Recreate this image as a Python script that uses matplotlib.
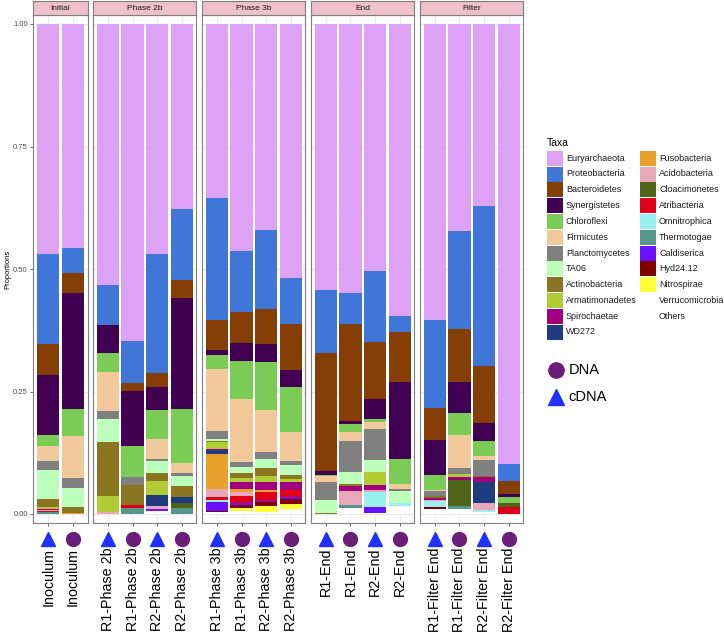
import numpy as np
import matplotlib
matplotlib.use('Agg')
import matplotlib.pyplot as plt
from matplotlib.patches import Rectangle
from matplotlib.transforms import blended_transform_factory

plt.rcParams['font.family'] = ['Liberation Sans', 'DejaVu Sans']

W, H = 724, 634

# 分面与样本
facets = ['Initial', 'Phase 2b', 'Phase 3b', 'End', 'Filter']
facet_of = [0, 0, 1, 1, 1, 1, 2, 2, 2, 2, 3, 3, 3, 3, 4, 4, 4, 4]
samples = ['Inoculum', 'Inoculum',
           'R1-Phase 2b', 'R1-Phase 2b', 'R2-Phase 2b', 'R2-Phase 2b',
           'R1-Phase 3b', 'R1-Phase 3b', 'R2-Phase 3b', 'R2-Phase 3b',
           'R1-End', 'R1-End', 'R2-End', 'R2-End',
           'R1-Filter End', 'R1-Filter End', 'R2-Filter End', 'R2-Filter End']
nucleic = ['cDNA', 'DNA'] * 9

# 各门的相对丰度（每个样本一列）
euryarchaeota = [0.470, 0.458, 0.533, 0.647, 0.469, 0.378, 0.355, 0.463, 0.420, 0.518, 0.543, 0.548, 0.504, 0.596, 0.604, 0.422, 0.372, 0.898]
proteobacteria = [0.183, 0.051, 0.082, 0.085, 0.243, 0.144, 0.250, 0.124, 0.161, 0.094, 0.129, 0.064, 0.146, 0.033, 0.179, 0.200, 0.325, 0.034]
bacteroidetes = [0.063, 0.039, 0.000, 0.016, 0.028, 0.037, 0.060, 0.065, 0.073, 0.095, 0.240, 0.198, 0.115, 0.102, 0.065, 0.109, 0.117, 0.028]
synergistetes = [0.123, 0.237, 0.056, 0.114, 0.047, 0.227, 0.010, 0.035, 0.035, 0.034, 0.009, 0.006, 0.042, 0.156, 0.072, 0.063, 0.037, 0.006]
chloroflexi = [0.022, 0.056, 0.039, 0.062, 0.059, 0.109, 0.029, 0.078, 0.099, 0.092, 0.002, 0.017, 0.005, 0.052, 0.031, 0.045, 0.030, 0.012]
firmicutes = [0.030, 0.086, 0.079, 0.000, 0.042, 0.021, 0.126, 0.128, 0.086, 0.059, 0.012, 0.019, 0.015, 0.009, 0.002, 0.067, 0.008, 0.000]
planctomycetes = [0.019, 0.019, 0.018, 0.016, 0.003, 0.006, 0.016, 0.012, 0.014, 0.009, 0.036, 0.062, 0.063, 0.006, 0.011, 0.012, 0.033, 0.000]
ta06 = [0.060, 0.040, 0.046, 0.000, 0.025, 0.021, 0.004, 0.011, 0.019, 0.020, 0.026, 0.025, 0.025, 0.023, 0.000, 0.000, 0.000, 0.000]
actinobacteria = [0.015, 0.011, 0.110, 0.042, 0.017, 0.022, 0.004, 0.011, 0.015, 0.007, 0.003, 0.003, 0.000, 0.000, 0.003, 0.000, 0.003, 0.000]
armatimonadetes = [0.004, 0.000, 0.033, 0.000, 0.028, 0.000, 0.013, 0.007, 0.012, 0.007, 0.000, 0.000, 0.026, 0.000, 0.000, 0.006, 0.000, 0.000]
spirochaetae = [0.003, 0.000, 0.000, 0.000, 0.000, 0.000, 0.003, 0.014, 0.018, 0.017, 0.000, 0.011, 0.009, 0.000, 0.004, 0.007, 0.010, 0.000]
wd272 = [0.000, 0.000, 0.000, 0.000, 0.022, 0.012, 0.008, 0.000, 0.000, 0.000, 0.000, 0.000, 0.000, 0.000, 0.000, 0.000, 0.042, 0.000]
fusobacteria = [0.000, 0.003, 0.000, 0.000, 0.000, 0.000, 0.071, 0.008, 0.004, 0.000, 0.000, 0.000, 0.000, 0.000, 0.000, 0.000, 0.000, 0.000]
acidobacteria = [0.002, 0.000, 0.004, 0.000, 0.006, 0.000, 0.016, 0.007, 0.000, 0.000, 0.000, 0.029, 0.005, 0.000, 0.003, 0.000, 0.015, 0.000]
cloacimonetes = [0.000, 0.000, 0.000, 0.000, 0.000, 0.010, 0.000, 0.000, 0.000, 0.000, 0.000, 0.000, 0.000, 0.000, 0.000, 0.052, 0.000, 0.007]
atribacteria = [0.002, 0.000, 0.000, 0.006, 0.000, 0.000, 0.007, 0.015, 0.017, 0.014, 0.000, 0.000, 0.000, 0.000, 0.000, 0.000, 0.000, 0.014]
omnitrophica = [0.000, 0.000, 0.000, 0.000, 0.000, 0.000, 0.003, 0.000, 0.000, 0.000, 0.000, 0.000, 0.031, 0.006, 0.012, 0.000, 0.004, 0.000]
thermotogae = [0.004, 0.000, 0.000, 0.012, 0.000, 0.013, 0.000, 0.000, 0.000, 0.000, 0.000, 0.005, 0.000, 0.000, 0.000, 0.007, 0.000, 0.000]
caldiserica = [0.000, 0.000, 0.000, 0.000, 0.004, 0.000, 0.018, 0.004, 0.003, 0.004, 0.000, 0.000, 0.011, 0.000, 0.000, 0.000, 0.000, 0.000]
hyd24_12 = [0.000, 0.000, 0.000, 0.000, 0.000, 0.000, 0.002, 0.006, 0.008, 0.010, 0.000, 0.000, 0.000, 0.000, 0.004, 0.000, 0.000, 0.000]
nitrospirae = [0.000, 0.000, 0.000, 0.000, 0.000, 0.000, 0.000, 0.005, 0.011, 0.010, 0.000, 0.000, 0.000, 0.000, 0.000, 0.000, 0.000, 0.000]
verrucomicrobia = [0.0] * 18
others = [0.000, 0.000, 0.000, 0.000, 0.007, 0.000, 0.005, 0.007, 0.005, 0.010, 0.000, 0.013, 0.003, 0.017, 0.010, 0.010, 0.004, 0.001]

taxa = ['Euryarchaeota', 'Proteobacteria', 'Bacteroidetes', 'Synergistetes', 'Chloroflexi',
        'Firmicutes', 'Planctomycetes', 'TA06', 'Actinobacteria', 'Armatimonadetes',
        'Spirochaetae', 'WD272', 'Fusobacteria', 'Acidobacteria', 'Cloacimonetes',
        'Atribacteria', 'Omnitrophica', 'Thermotogae', 'Caldiserica', 'Hyd24.12',
        'Nitrospirae', 'Verrucomicrobia', 'Others']
taxa_values = [euryarchaeota, proteobacteria, bacteroidetes, synergistetes, chloroflexi,
               firmicutes, planctomycetes, ta06, actinobacteria, armatimonadetes,
               spirochaetae, wd272, fusobacteria, acidobacteria, cloacimonetes,
               atribacteria, omnitrophica, thermotogae, caldiserica, hyd24_12,
               nitrospirae, verrucomicrobia, others]
taxa_colors = ['#DDA1F6', '#3F76D8', '#853F06', '#410052', '#7BCC57',
               '#F2C99B', '#808080', '#BBFFBB', '#8A7621', '#B0CB33',
               '#A1007F', '#1F3A7F', '#E8A12C', '#E8A8B8', '#4F6319',
               '#E0001A', '#9AF0F0', '#55958A', '#6A10FF', '#800000',
               '#FFFF33', '#FFFFFF', '#FFFFFF']
shape_color = {'DNA': '#6B1E79', 'cDNA': '#1F30FF'}
shape_marker = {'DNA': 'o', 'cDNA': '^'}


def fig_rect(x0, y0, x1, y1):
    # 像素坐标 -> figure 坐标
    return [x0 / W, 1 - y1 / H, (x1 - x0) / W, (y1 - y0) / H]


fig = plt.figure(figsize=(W / 100, H / 100), dpi=100)

# 面板布局（像素）
unit, gap, left0 = 24.6, 5.65, 33.4
panel_top, panel_bot = 15.0, 523.0
strip_top = 1.0
ylo, yhi = -9 / 490, 1 + 9 / 490

x_cur = left0
for f, fname in enumerate(facets):
    idx = [i for i, k in enumerate(facet_of) if k == f]
    n = len(idx)
    pw = (n + 0.2) * unit
    ax = fig.add_axes(fig_rect(x_cur, panel_top, x_cur + pw, panel_bot))
    xs = np.arange(n)
    bottom = np.zeros(n)
    for name, vals, col in reversed(list(zip(taxa, taxa_values, taxa_colors))):
        v = np.array([vals[i] for i in idx])
        ax.bar(xs, v, bottom=bottom, width=0.9, color=col, linewidth=0, zorder=3)
        bottom += v
    ax.set_xlim(-0.6, n - 0.4)
    ax.set_ylim(ylo, yhi)
    ax.set_xticks(xs)
    ax.set_xticklabels([])
    ax.set_yticks([0, 0.25, 0.5, 0.75, 1.0])
    ax.set_yticks([0.125, 0.375, 0.625, 0.875], minor=True)
    ax.grid(which='major', color='#EBEBEB', linewidth=1.0, zorder=0)
    ax.grid(which='minor', axis='y', color='#F3F3F3', linewidth=0.5, zorder=0)
    ax.set_axisbelow(True)
    ax.tick_params(which='major', length=2.5, width=0.5, color='#333333')
    ax.tick_params(which='minor', length=0)
    if f == 0:
        ax.set_yticklabels(['0.00', '0.25', '0.50', '0.75', '1.00'],
                           fontsize=5.5, color='#4D4D4D')
        ax.tick_params(axis='y', pad=1.5)
    else:
        ax.set_yticklabels([])
        ax.tick_params(axis='y', length=0)
    for s in ax.spines.values():
        s.set_color('#7F7F7F')
        s.set_linewidth(0.8)

    # 底部形状与样本名
    tr = blended_transform_factory(ax.transData, ax.transAxes)
    ph = panel_bot - panel_top
    for j, i in enumerate(idx):
        kind = nucleic[i]
        ax.plot([xs[j]], [-(538.5 - panel_bot) / ph], marker=shape_marker[kind],
                markersize=10.5 if kind == 'cDNA' else 10, color=shape_color[kind],
                linestyle='none', transform=tr, clip_on=False)
        ax.text(xs[j], -(547.5 - panel_bot) / ph, samples[i], rotation=90,
                ha='center', va='top', fontsize=10.3, color='black', transform=tr)

    # 分面标题条
    sax = fig.add_axes(fig_rect(x_cur, strip_top, x_cur + pw, panel_top))
    sax.set_facecolor('#EFC1CC')
    sax.set_xticks([])
    sax.set_yticks([])
    for s in sax.spines.values():
        s.set_color('#7F7F7F')
        s.set_linewidth(0.8)
    sax.text(0.5, 0.5, fname, ha='center', va='center', fontsize=6, color='#1A1A1A',
             transform=sax.transAxes)

    x_cur += pw + gap

fig.text(8 / W, 1 - 269 / H, 'Proportions', rotation=90, ha='center', va='center',
         fontsize=5.5, color='black')

# 图例
lg = fig.add_axes([0, 0, 1, 1], zorder=-1)
lg.set_xlim(0, W)
lg.set_ylim(H, 0)
lg.axis('off')
lg.text(547, 146, 'Taxa', fontsize=7.5, ha='left', va='baseline')
row_h = 15.8
for k, (name, col) in enumerate(zip(taxa, taxa_colors)):
    c, r = divmod(k, 12)
    kx = 547 if c == 0 else 640
    cy = 158.2 + r * row_h
    lg.add_patch(Rectangle((kx, cy - 7.5), 15.5, 15, facecolor=col, edgecolor='none'))
    lg.text(kx + 19, cy, name, fontsize=6.5, ha='left', va='center', color='#1A1A1A')

lg.plot([555.5], [370], marker='o', markersize=11, color=shape_color['DNA'], linestyle='none')
lg.text(569, 370, 'DNA', fontsize=10.5, ha='left', va='center')
lg.plot([555.5], [397], marker='^', markersize=11.5, color=shape_color['cDNA'], linestyle='none')
lg.text(568, 397, 'cDNA', fontsize=10.5, ha='left', va='center')

fig.savefig('out.png', dpi=100)
